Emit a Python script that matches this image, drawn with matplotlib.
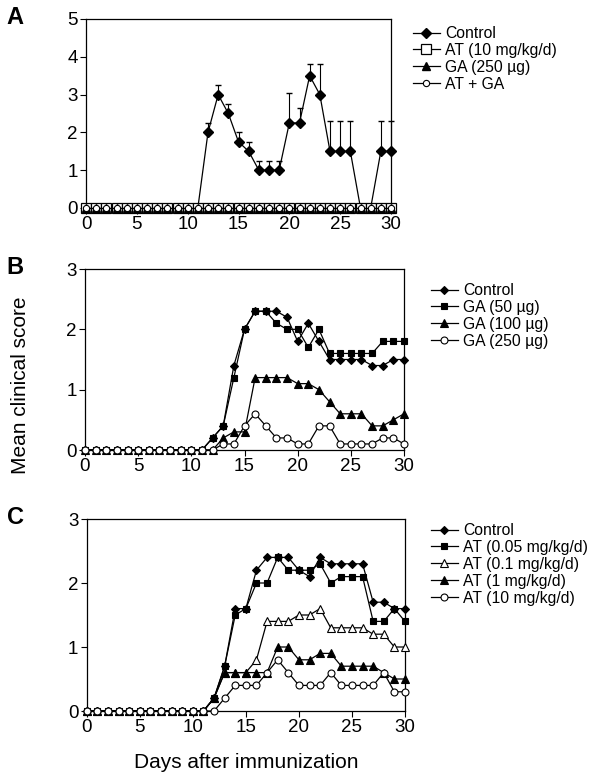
import numpy as np
import matplotlib
matplotlib.use('Agg')
import matplotlib.pyplot as plt

plt.rcParams['font.family'] = ['Liberation Sans', 'DejaVu Sans']

days = np.arange(0, 31)

# Panel A
a_control = [0]*12 + [2, 3, 2.5, 1.75, 1.5, 1, 1, 1, 2.25, 2.25, 3.5, 3, 1.5, 1.5, 1.5, 0, 0, 1.5, 1.5]
a_control_err = [0]*12 + [0.25, 0.25, 0.25, 0.25, 0.25, 0.25, 0.25, 0.25, 0.8, 0.4, 0.3, 0.8, 0.8, 0.8, 0.8, 0, 0, 0.8, 0.8]
a_at = [0]*31
a_ga = [0]*31
a_atga = [0]*31
a_labels = ['Control', 'AT (10 mg/kg/d)', 'GA (250 \u00b5g)', 'AT + GA']

# Panel B
b_control = [0]*12 + [0.2, 0.4, 1.4, 2.0, 2.3, 2.3, 2.3, 2.2, 1.8, 2.1, 1.8, 1.5, 1.5, 1.5, 1.5, 1.4, 1.4, 1.5, 1.5]
b_ga50 = [0]*12 + [0.2, 0.4, 1.2, 2.0, 2.3, 2.3, 2.1, 2.0, 2.0, 1.7, 2.0, 1.6, 1.6, 1.6, 1.6, 1.6, 1.8, 1.8, 1.8]
b_ga100 = [0]*12 + [0, 0.2, 0.3, 0.3, 1.2, 1.2, 1.2, 1.2, 1.1, 1.1, 1.0, 0.8, 0.6, 0.6, 0.6, 0.4, 0.4, 0.5, 0.6]
b_ga250 = [0]*12 + [0, 0.1, 0.1, 0.4, 0.6, 0.4, 0.2, 0.2, 0.1, 0.1, 0.4, 0.4, 0.1, 0.1, 0.1, 0.1, 0.2, 0.2, 0.1]
b_labels = ['Control', 'GA (50 \u00b5g)', 'GA (100 \u00b5g)', 'GA (250 \u00b5g)']

# Panel C
c_control = [0]*12 + [0.2, 0.7, 1.6, 1.6, 2.2, 2.4, 2.4, 2.4, 2.2, 2.1, 2.4, 2.3, 2.3, 2.3, 2.3, 1.7, 1.7, 1.6, 1.6]
c_at005 = [0]*12 + [0.2, 0.7, 1.5, 1.6, 2.0, 2.0, 2.4, 2.2, 2.2, 2.2, 2.3, 2.0, 2.1, 2.1, 2.1, 1.4, 1.4, 1.6, 1.4]
c_at01 = [0]*12 + [0.2, 0.6, 0.6, 0.6, 0.8, 1.4, 1.4, 1.4, 1.5, 1.5, 1.6, 1.3, 1.3, 1.3, 1.3, 1.2, 1.2, 1.0, 1.0]
c_at1 = [0]*12 + [0.2, 0.6, 0.6, 0.6, 0.6, 0.6, 1.0, 1.0, 0.8, 0.8, 0.9, 0.9, 0.7, 0.7, 0.7, 0.7, 0.6, 0.5, 0.5]
c_at10 = [0]*12 + [0, 0.2, 0.4, 0.4, 0.4, 0.6, 0.8, 0.6, 0.4, 0.4, 0.4, 0.6, 0.4, 0.4, 0.4, 0.4, 0.6, 0.3, 0.3]
c_labels = ['Control', 'AT (0.05 mg/kg/d)', 'AT (0.1 mg/kg/d)', 'AT (1 mg/kg/d)', 'AT (10 mg/kg/d)']

fig = plt.figure(figsize=(5.9, 7.75), dpi=100)

lw = 0.9
ms = 5
tick_fs = 13.5
leg_fs = 11.3

def style_axis(ax, ymax):
    ax.set_xlim(0, 30)
    ax.set_ylim(0, ymax)
    ax.set_xticks([0, 5, 10, 15, 20, 25, 30])
    ax.set_yticks(range(0, ymax + 1))
    ax.tick_params(direction='out', length=4, width=0.8, labelsize=tick_fs, pad=2)
    for s in ax.spines.values():
        s.set_linewidth(0.9)

def add_legend(ax, x, y):
    ax.legend(loc='upper left', bbox_to_anchor=(x / 590, 1 - y / 775),
              bbox_transform=fig.transFigure, frameon=False, fontsize=leg_fs,
              borderaxespad=0, borderpad=0, handlelength=1.7, handletextpad=0.35,
              labelspacing=0.12)

# ---- A
axA = fig.add_axes([86 / 590, 1 - 208 / 775, 305 / 590, 189 / 775])
axA.errorbar(days, a_control, yerr=[np.zeros(31), a_control_err], fmt='none', ecolor='black',
             capsize=2.2, elinewidth=0.8, clip_on=False, zorder=2)
axA.plot(days, a_control, color='black', lw=lw, marker='D', ms=ms, mfc='black', mec='black',
         label=a_labels[0], clip_on=False, zorder=3)
axA.plot(days, a_at, color='black', lw=lw, marker='s', ms=6.5, mfc='white', mec='black',
         mew=0.9, label=a_labels[1], clip_on=False, zorder=4)
axA.plot(days, a_ga, color='black', lw=lw, marker='^', ms=6, mfc='black', mec='black',
         label=a_labels[2], clip_on=False, zorder=5)
axA.plot(days, a_atga, color='black', lw=lw, marker='o', ms=4.5, mfc='white', mec='black',
         mew=0.8, label=a_labels[3], clip_on=False, zorder=6)
style_axis(axA, 5)
add_legend(axA, 413, 26)
fig.text(15 / 590, 1 - 18 / 775, 'A', fontsize=17, fontweight='bold', ha='center', va='center')

# ---- B
axB = fig.add_axes([85 / 590, 1 - 450 / 775, 319 / 590, 181 / 775])
b_series = [(b_control, 'D', 'black', 4.5), (b_ga50, 's', 'black', ms),
            (b_ga100, '^', 'black', 5.5), (b_ga250, 'o', 'white', ms)]
for i, (vals, m, fc, size) in enumerate(b_series):
    axB.plot(days, vals, color='black', lw=lw, marker=m, ms=size, mfc=fc, mec='black',
             mew=0.8, label=b_labels[i], clip_on=False, zorder=3 + i)
style_axis(axB, 3)
add_legend(axB, 431, 283)
fig.text(15 / 590, 1 - 268 / 775, 'B', fontsize=17, fontweight='bold', ha='center', va='center')

# ---- C
axC = fig.add_axes([86.7 / 590, 1 - 711 / 775, 318.3 / 590, 192 / 775])
c_series = [(c_control, 'D', 'black', 4.5), (c_at005, 's', 'black', ms),
            (c_at01, '^', 'white', 5.5), (c_at1, '^', 'black', 5.5), (c_at10, 'o', 'white', ms)]
for i, (vals, m, fc, size) in enumerate(c_series):
    axC.plot(days, vals, color='black', lw=lw, marker=m, ms=size, mfc=fc, mec='black',
             mew=0.8, label=c_labels[i], clip_on=False, zorder=3 + i)
style_axis(axC, 3)
add_legend(axC, 431, 523)
fig.text(15 / 590, 1 - 518 / 775, 'C', fontsize=17, fontweight='bold', ha='center', va='center')

axC.set_xlabel('Days after immunization', fontsize=15, labelpad=12)
fig.text(21 / 590, 1 - 385 / 775, 'Mean clinical score', fontsize=15, rotation=90,
         ha='center', va='center')

fig.savefig('out.png', dpi=100)
